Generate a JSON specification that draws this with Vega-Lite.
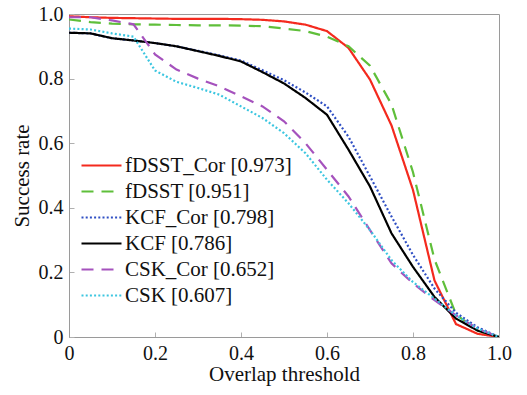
{
  "$schema": "https://vega.github.io/schema/vega-lite/v6.json",
  "width": 430,
  "height": 323,
  "autosize": {"type": "none"},
  "padding": {"left": 69, "top": 14, "right": 28, "bottom": 58},
  "background": "white",
  "config": {
    "font": "Liberation Serif",
    "view": {"stroke": "#9a9a9a", "strokeWidth": 1},
    "axis": {"grid": false, "domainColor": "#9a9a9a", "tickColor": "#b0b0b0", "labelFont": "Liberation Serif", "titleFont": "Liberation Serif", "labelColor": "#111", "titleColor": "#111", "titleFontWeight": "normal", "labelFontSize": 20, "titleFontSize": 21, "tickSize": -5},
    "legend": {"labelFont": "Liberation Serif", "labelFontSize": 21, "labelColor": "#111", "labelLimit": 400, "symbolType": "M-2,0H2", "symbolSize": 400, "symbolStrokeWidth": 2.2, "labelOffset": 12, "rowPadding": 4, "padding": 0}
  },
  "data": {"values": [
    {"s":"fDSST_Cor [0.973]","x":0,"y":0.993},{"s":"fDSST_Cor [0.973]","x":0.05,"y":0.99},{"s":"fDSST_Cor [0.973]","x":0.1,"y":0.988},{"s":"fDSST_Cor [0.973]","x":0.15,"y":0.987},{"s":"fDSST_Cor [0.973]","x":0.2,"y":0.986},{"s":"fDSST_Cor [0.973]","x":0.25,"y":0.985},{"s":"fDSST_Cor [0.973]","x":0.3,"y":0.985},{"s":"fDSST_Cor [0.973]","x":0.35,"y":0.985},{"s":"fDSST_Cor [0.973]","x":0.4,"y":0.984},{"s":"fDSST_Cor [0.973]","x":0.45,"y":0.982},{"s":"fDSST_Cor [0.973]","x":0.5,"y":0.977},{"s":"fDSST_Cor [0.973]","x":0.55,"y":0.967},{"s":"fDSST_Cor [0.973]","x":0.6,"y":0.947},{"s":"fDSST_Cor [0.973]","x":0.65,"y":0.895},{"s":"fDSST_Cor [0.973]","x":0.7,"y":0.797},{"s":"fDSST_Cor [0.973]","x":0.75,"y":0.655},{"s":"fDSST_Cor [0.973]","x":0.8,"y":0.455},{"s":"fDSST_Cor [0.973]","x":0.85,"y":0.175},{"s":"fDSST_Cor [0.973]","x":0.9,"y":0.04},{"s":"fDSST_Cor [0.973]","x":0.95,"y":0.01},{"s":"fDSST_Cor [0.973]","x":1,"y":0},
    {"s":"fDSST [0.951]","x":0,"y":0.983},{"s":"fDSST [0.951]","x":0.05,"y":0.975},{"s":"fDSST [0.951]","x":0.1,"y":0.97},{"s":"fDSST [0.951]","x":0.15,"y":0.968},{"s":"fDSST [0.951]","x":0.2,"y":0.967},{"s":"fDSST [0.951]","x":0.25,"y":0.966},{"s":"fDSST [0.951]","x":0.3,"y":0.965},{"s":"fDSST [0.951]","x":0.35,"y":0.965},{"s":"fDSST [0.951]","x":0.4,"y":0.964},{"s":"fDSST [0.951]","x":0.45,"y":0.962},{"s":"fDSST [0.951]","x":0.5,"y":0.955},{"s":"fDSST [0.951]","x":0.55,"y":0.947},{"s":"fDSST [0.951]","x":0.6,"y":0.93},{"s":"fDSST [0.951]","x":0.65,"y":0.9},{"s":"fDSST [0.951]","x":0.7,"y":0.84},{"s":"fDSST [0.951]","x":0.75,"y":0.72},{"s":"fDSST [0.951]","x":0.8,"y":0.51},{"s":"fDSST [0.951]","x":0.85,"y":0.24},{"s":"fDSST [0.951]","x":0.9,"y":0.07},{"s":"fDSST [0.951]","x":0.95,"y":0.02},{"s":"fDSST [0.951]","x":1,"y":0},
    {"s":"KCF_Cor [0.798]","x":0,"y":0.942},{"s":"KCF_Cor [0.798]","x":0.05,"y":0.94},{"s":"KCF_Cor [0.798]","x":0.1,"y":0.925},{"s":"KCF_Cor [0.798]","x":0.15,"y":0.918},{"s":"KCF_Cor [0.798]","x":0.2,"y":0.91},{"s":"KCF_Cor [0.798]","x":0.25,"y":0.9},{"s":"KCF_Cor [0.798]","x":0.3,"y":0.886},{"s":"KCF_Cor [0.798]","x":0.35,"y":0.872},{"s":"KCF_Cor [0.798]","x":0.4,"y":0.856},{"s":"KCF_Cor [0.798]","x":0.45,"y":0.826},{"s":"KCF_Cor [0.798]","x":0.5,"y":0.795},{"s":"KCF_Cor [0.798]","x":0.55,"y":0.757},{"s":"KCF_Cor [0.798]","x":0.6,"y":0.714},{"s":"KCF_Cor [0.798]","x":0.65,"y":0.62},{"s":"KCF_Cor [0.798]","x":0.7,"y":0.497},{"s":"KCF_Cor [0.798]","x":0.75,"y":0.373},{"s":"KCF_Cor [0.798]","x":0.8,"y":0.254},{"s":"KCF_Cor [0.798]","x":0.85,"y":0.15},{"s":"KCF_Cor [0.798]","x":0.9,"y":0.075},{"s":"KCF_Cor [0.798]","x":0.95,"y":0.03},{"s":"KCF_Cor [0.798]","x":1,"y":0},
    {"s":"KCF [0.786]","x":0,"y":0.942},{"s":"KCF [0.786]","x":0.05,"y":0.94},{"s":"KCF [0.786]","x":0.1,"y":0.925},{"s":"KCF [0.786]","x":0.15,"y":0.918},{"s":"KCF [0.786]","x":0.2,"y":0.91},{"s":"KCF [0.786]","x":0.25,"y":0.9},{"s":"KCF [0.786]","x":0.3,"y":0.885},{"s":"KCF [0.786]","x":0.35,"y":0.87},{"s":"KCF [0.786]","x":0.4,"y":0.853},{"s":"KCF [0.786]","x":0.45,"y":0.82},{"s":"KCF [0.786]","x":0.5,"y":0.785},{"s":"KCF [0.786]","x":0.55,"y":0.74},{"s":"KCF [0.786]","x":0.6,"y":0.688},{"s":"KCF [0.786]","x":0.65,"y":0.58},{"s":"KCF [0.786]","x":0.7,"y":0.466},{"s":"KCF [0.786]","x":0.75,"y":0.321},{"s":"KCF [0.786]","x":0.8,"y":0.217},{"s":"KCF [0.786]","x":0.85,"y":0.124},{"s":"KCF [0.786]","x":0.9,"y":0.057},{"s":"KCF [0.786]","x":0.95,"y":0.02},{"s":"KCF [0.786]","x":1,"y":0},
    {"s":"CSK_Cor [0.652]","x":0,"y":0.99},{"s":"CSK_Cor [0.652]","x":0.05,"y":0.99},{"s":"CSK_Cor [0.652]","x":0.1,"y":0.98},{"s":"CSK_Cor [0.652]","x":0.15,"y":0.968},{"s":"CSK_Cor [0.652]","x":0.2,"y":0.875},{"s":"CSK_Cor [0.652]","x":0.25,"y":0.828},{"s":"CSK_Cor [0.652]","x":0.3,"y":0.8},{"s":"CSK_Cor [0.652]","x":0.35,"y":0.776},{"s":"CSK_Cor [0.652]","x":0.4,"y":0.745},{"s":"CSK_Cor [0.652]","x":0.45,"y":0.714},{"s":"CSK_Cor [0.652]","x":0.5,"y":0.668},{"s":"CSK_Cor [0.652]","x":0.55,"y":0.6},{"s":"CSK_Cor [0.652]","x":0.6,"y":0.518},{"s":"CSK_Cor [0.652]","x":0.65,"y":0.435},{"s":"CSK_Cor [0.652]","x":0.7,"y":0.331},{"s":"CSK_Cor [0.652]","x":0.75,"y":0.228},{"s":"CSK_Cor [0.652]","x":0.8,"y":0.166},{"s":"CSK_Cor [0.652]","x":0.85,"y":0.114},{"s":"CSK_Cor [0.652]","x":0.9,"y":0.067},{"s":"CSK_Cor [0.652]","x":0.95,"y":0.026},{"s":"CSK_Cor [0.652]","x":1,"y":0},
    {"s":"CSK [0.607]","x":0,"y":0.955},{"s":"CSK [0.607]","x":0.05,"y":0.952},{"s":"CSK [0.607]","x":0.1,"y":0.94},{"s":"CSK [0.607]","x":0.15,"y":0.93},{"s":"CSK [0.607]","x":0.2,"y":0.825},{"s":"CSK [0.607]","x":0.25,"y":0.79},{"s":"CSK [0.607]","x":0.3,"y":0.771},{"s":"CSK [0.607]","x":0.35,"y":0.75},{"s":"CSK [0.607]","x":0.4,"y":0.714},{"s":"CSK [0.607]","x":0.45,"y":0.678},{"s":"CSK [0.607]","x":0.5,"y":0.631},{"s":"CSK [0.607]","x":0.55,"y":0.569},{"s":"CSK [0.607]","x":0.6,"y":0.487},{"s":"CSK [0.607]","x":0.65,"y":0.414},{"s":"CSK [0.607]","x":0.7,"y":0.331},{"s":"CSK [0.607]","x":0.75,"y":0.238},{"s":"CSK [0.607]","x":0.8,"y":0.17},{"s":"CSK [0.607]","x":0.85,"y":0.119},{"s":"CSK [0.607]","x":0.9,"y":0.067},{"s":"CSK [0.607]","x":0.95,"y":0.026},{"s":"CSK [0.607]","x":1,"y":0}
  ]},
  "mark": {"type": "line", "strokeWidth": 2.2, "clip": true},
  "encoding": {
    "x": {"field": "x", "type": "quantitative", "scale": {"domain": [0, 1], "nice": false, "zero": false},
      "axis": {"title": "Overlap threshold", "values": [0, 0.2, 0.4, 0.6, 0.8, 1.0], "labelExpr": "datum.value == 0 ? '0' : format(datum.value, '.1f')", "labelPadding": 11, "titlePadding": 0, "labelFlush": false}},
    "y": {"field": "y", "type": "quantitative", "scale": {"domain": [0, 1], "nice": false},
      "axis": {"title": "Success rate", "values": [0, 0.2, 0.4, 0.6, 0.8, 1.0], "labelExpr": "datum.value == 0 ? '0' : format(datum.value, '.1f')", "labelPadding": 11, "titlePadding": 6, "labelFlush": false}},
    "color": {"field": "s", "type": "nominal", "sort": null,
      "scale": {"domain": ["fDSST_Cor [0.973]", "fDSST [0.951]", "KCF_Cor [0.798]", "KCF [0.786]", "CSK_Cor [0.652]", "CSK [0.607]"],
        "range": ["#f42a1e", "#5fbf3a", "#2f4fc4", "#000000", "#a552bd", "#3cc6e0"]},
      "legend": {"title": null, "orient": "none", "legendX": 21, "legendY": 140}},
    "strokeDash": {"field": "s", "type": "nominal", "sort": null,
      "scale": {"domain": ["fDSST_Cor [0.973]", "fDSST [0.951]", "KCF_Cor [0.798]", "KCF [0.786]", "CSK_Cor [0.652]", "CSK [0.607]"],
        "range": [[1, 0], [12, 8], [2, 2.2], [1, 0], [12, 8], [2, 2.2]]},
      "legend": {"title": null, "orient": "none", "legendX": 21, "legendY": 140}}
  }
}
